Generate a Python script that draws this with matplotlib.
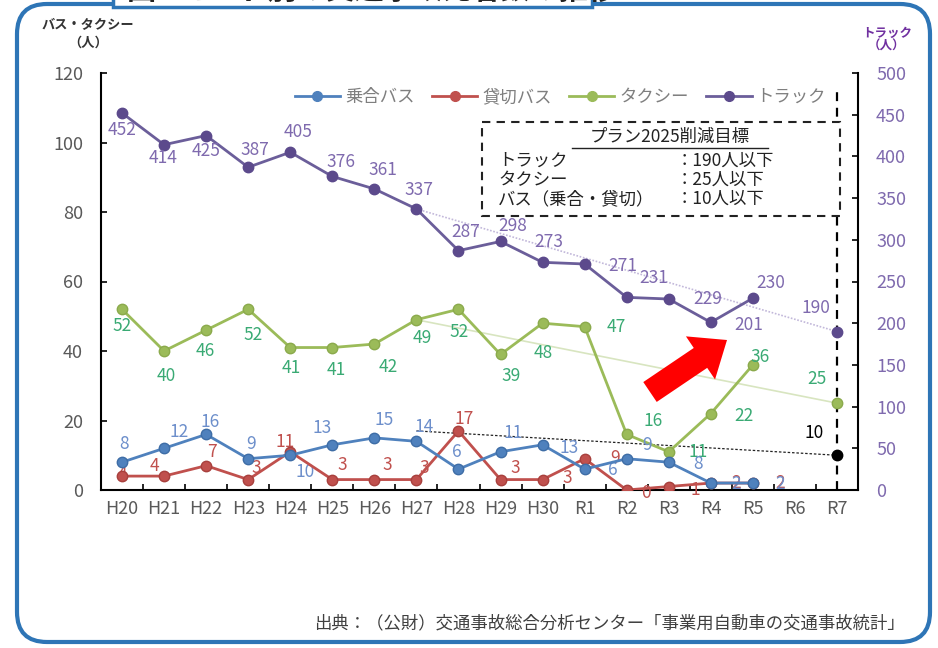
"""Traffic fatalities by mode: bus, taxi and truck, with Plan 2025 targets."""

import matplotlib

matplotlib.use("Agg")
import matplotlib.pyplot as plt
import numpy as np
from matplotlib.lines import Line2D
from matplotlib.patches import FancyArrow, FancyBboxPatch, Rectangle

plt.rcParams["font.family"] = ["Noto Sans CJK JP", "DejaVu Sans"]

YEARS = ["H20", "H21", "H22", "H23", "H24", "H25", "H26", "H27", "H28",
         "H29", "H30", "R1", "R2", "R3", "R4", "R5", "R6", "R7"]
BASE_YEAR = "H27"
TARGET_YEAR = "R7"

BUS_ROUTE = [8, 12, 16, 9, 10, 13, 15, 14, 6, 11, 13, 6, 9, 8, 2, 2]
BUS_CHARTER = [4, 4, 7, 3, 11, 3, 3, 3, 17, 3, 3, 9, 0, 1, 2, 2]
TAXI = [52, 40, 46, 52, 41, 41, 42, 49, 52, 39, 48, 47, 16, 11, 22, 36]
TRUCK = [452, 414, 425, 387, 405, 376, 361, 337, 287, 298, 273, 271, 231, 229, 201, 230]

TARGET_TRUCK = 190
TARGET_TAXI = 25
TARGET_BUS = 10

# label offsets in pixels (dx, dy up) for each point
OFF_ROUTE = [(2, 18), (15, 16), (4, 12), (3, 15), (15, -17), (-10, 17), (10, 18), (8, 14),
             (-2, 17), (13, 19), (27, -3), (28, -1), (20, 14), (29, -2), (25, -1), (27, -1)]
OFF_CHARTER = [(0, 2), (-10, 10), (6, 14), (8, 12), (-5, 10), (10, 15), (13, 15), (8, 12),
               (6, 12), (15, 12), (25, 2), (30, 1), (19, -3), (27, -3), (25, 0), (27, 0)]
OFF_TAXI = [(0, -17), (2, -25), (-1, -21), (5, -26), (1, -20), (4, -22), (14, -23), (6, -18),
            (1, -23), (11, -22), (1, -30), (32, 0), (26, 13), (29, 0), (33, -2), (7, 8)]
OFF_TRUCK = [(0, -17), (-1, -13), (0, -15), (7, 17), (8, 20), (9, 14), (9, 19), (3, 19),
             (7, 19), (12, 15), (6, 20), (38, -2), (27, 19), (39, 0), (38, -3), (18, 15)]

C_ROUTE, C_ROUTE_TXT = "#4F81BD", "#6D8FCB"
C_CHARTER, C_CHARTER_TXT = "#C0504D", "#C0504D"
C_TAXI, C_TAXI_TXT = "#9BBB59", "#3AAA74"
C_TRUCK, C_TRUCK_MK, C_TRUCK_TXT = "#6B5E9A", "#5C4A8C", "#7F6AAE"
GRAY = "#595959"
FRAME = "#2E75B6"

W, H = 938, 648
fig = plt.figure(figsize=(W / 100, H / 100), dpi=100)
ax = fig.add_axes([101 / W, 1 - 490 / H, 757 / W, 417 / H])
ax2 = ax.twinx()

x = np.arange(len(BUS_ROUTE))
xb = YEARS.index(BASE_YEAR)
xt = YEARS.index(TARGET_YEAR)

# projection lines from the base year to the target year
ax.plot([xb, xt], [BUS_ROUTE[xb] + BUS_CHARTER[xb], TARGET_BUS], color="#222222",
        lw=0.9, ls=(0, (2, 1.5)), zorder=1)
ax.plot([xb, xt], [TAXI[xb], TARGET_TAXI], color="#D8E5C0", lw=1.2, zorder=1)
ax2.plot([xb, xt], [TRUCK[xb], TARGET_TRUCK], color="#C2B8DA", lw=1.2, ls=(0, (1, 1)), zorder=1)

mk = dict(marker="o", markersize=7.5, lw=2)
ax.plot(x, TAXI, color=C_TAXI, mfc=C_TAXI, mec="#8BAA4C", zorder=3, **mk)
ax.plot(x, BUS_CHARTER, color=C_CHARTER, mfc=C_CHARTER, mec="#A8403D", zorder=4, **mk)
ax.plot(x, BUS_ROUTE, color=C_ROUTE, mfc=C_ROUTE, mec="#3E6DA6", zorder=4, **mk)
ax2.plot(x, TRUCK, color=C_TRUCK, mfc=C_TRUCK_MK, mec=C_TRUCK_MK, zorder=3, **mk)

ax.plot([xt], [TARGET_TAXI], "o", color=C_TAXI, mec="#8BAA4C", markersize=7.5, zorder=4)
ax.plot([xt], [TARGET_BUS], "o", color="black", markersize=7.5, zorder=4)
ax2.plot([xt], [TARGET_TRUCK], "o", color=C_TRUCK_MK, markersize=7.5, zorder=4)

lab = dict(textcoords="offset pixels", ha="center", va="center", fontsize=12.5)
for i, v in enumerate(TAXI):
    ax.annotate(str(v), (i, v), xytext=OFF_TAXI[i], color=C_TAXI_TXT, **lab)
for i, v in enumerate(BUS_CHARTER):
    ax.annotate(str(v), (i, v), xytext=OFF_CHARTER[i], color=C_CHARTER_TXT, **lab)
for i, v in enumerate(BUS_ROUTE):
    ax.annotate(str(v), (i, v), xytext=OFF_ROUTE[i], color=C_ROUTE_TXT, **lab)
for i, v in enumerate(TRUCK):
    ax2.annotate(str(v), (i, v), xytext=OFF_TRUCK[i], color=C_TRUCK_TXT, **lab)
ax.annotate(str(TARGET_TAXI), (xt, TARGET_TAXI), xytext=(-20, 24), color=C_TAXI_TXT, **lab)
ax.annotate(str(TARGET_BUS), (xt, TARGET_BUS), xytext=(-23, 22), color="black", **lab)
ax2.annotate(str(TARGET_TRUCK), (xt, TARGET_TRUCK), xytext=(-21, 24), color=C_TRUCK_TXT, **lab)

ax.axvline(xt, ymin=0, ymax=0.97, color="black", lw=1.6, ls=(0, (4, 3)), zorder=2)

ax.set_xlim(-0.5, len(YEARS) - 0.5)
ax.set_ylim(0, 120)
ax2.set_ylim(0, 500)
ax.set_yticks(range(0, 121, 20))
ax2.set_yticks(range(0, 501, 50))
ax.set_xticks(range(len(YEARS)))
ax.set_xticklabels(YEARS)
ax.set_xticks(np.arange(-0.5, len(YEARS)), minor=True)
ax.tick_params(axis="x", which="major", length=0, pad=7, labelsize=13, labelcolor=GRAY)
ax.tick_params(axis="x", which="minor", direction="in", length=4, width=1.2)
ax.tick_params(axis="y", direction="in", length=4, width=1.2, pad=13, labelsize=13, labelcolor=GRAY)
ax2.tick_params(axis="y", direction="in", length=4, width=1.2, pad=13, labelsize=13, labelcolor=C_TRUCK_TXT)
for a in (ax, ax2):
    a.spines["top"].set_visible(False)
    for s in a.spines.values():
        s.set_linewidth(1.5)
ax.spines["right"].set_visible(False)
ax2.spines["left"].set_visible(False)
ax2.spines["bottom"].set_visible(False)

handles = [
    Line2D([], [], color=C_ROUTE, marker="o", markersize=7, lw=2),
    Line2D([], [], color=C_CHARTER, marker="o", markersize=7, lw=2),
    Line2D([], [], color=C_TAXI, marker="o", markersize=7, lw=2),
    Line2D([], [], color=C_TRUCK, mfc=C_TRUCK_MK, mec=C_TRUCK_MK, marker="o", markersize=7, lw=2),
]
ax2.legend(handles, ["乗合バス", "貸切バス", "タクシー", "トラック"], loc="center",
           bbox_to_anchor=(0.607, 0.942), ncol=4, frameon=False, fontsize=12.5,
           labelcolor="#7F7F7F", handlelength=2.6, handletextpad=0.3, columnspacing=1.0)

# overlay in pixel units for frame, titles, target box and arrow
ov = fig.add_axes([0, 0, 1, 1], zorder=10)
ov.set_xlim(0, W)
ov.set_ylim(H, 0)
ov.axis("off")

ov.add_patch(FancyBboxPatch((17, 4), 913, 638, boxstyle="round,pad=0,rounding_size=30",
                            fc="none", ec=FRAME, lw=3, clip_on=False))
ov.add_patch(Rectangle((113, -30), 479, 37, fc="white", ec=FRAME, lw=2.5, clip_on=False))
ov.text(372, -10, "図3 モード別の交通事故死者数の推移", ha="center", va="center",
        fontsize=21, fontweight="bold", color="#222222")

ov.text(88, 25, "バス・タクシー", ha="center", va="center", fontsize=9.5, fontweight="bold", color="#333333")
ov.text(88, 43, "（人）", ha="center", va="center", fontsize=9.5, fontweight="bold", color="#333333")
ov.text(887, 33, "トラック", ha="center", va="center", fontsize=9, fontweight="bold", color="#7030A0")
ov.text(887, 46, "（人）", ha="center", va="center", fontsize=9, fontweight="bold", color="#7030A0")

# Plan 2025 target box
ov.add_patch(Rectangle((482, 122), 358, 94, fc="white", ec="#222222", lw=1.5, ls=(0, (4, 3))))
ov.text(670, 137, "プラン2025削減目標", ha="center", va="center", fontsize=12.5, color="#222222")
ov.plot([572, 768], [148, 148], color="#222222", lw=1)
rows = [("トラック", "：190人以下"), ("タクシー", "：25人以下"), ("バス（乗合・貸切）", "：10人以下")]
for k, (name, goal) in enumerate(rows):
    ov.text(498, 161 + 19 * k, name, ha="left", va="center", fontsize=12.5, color="#222222")
    ov.text(676, 161 + 19 * k, goal, ha="left", va="center", fontsize=12.5, color="#222222")

ov.add_patch(FancyArrow(650, 392, 77, -52, width=24, head_width=52, head_length=32,
                        length_includes_head=True, color="#FF0000", lw=0))

ov.text(905, 623, "出典：（公財）交通事故総合分析センター「事業用自動車の交通事故統計」",
        ha="right", va="center", fontsize=12.5, color="#404040")

fig.savefig("out.png", dpi=100, facecolor="white")
